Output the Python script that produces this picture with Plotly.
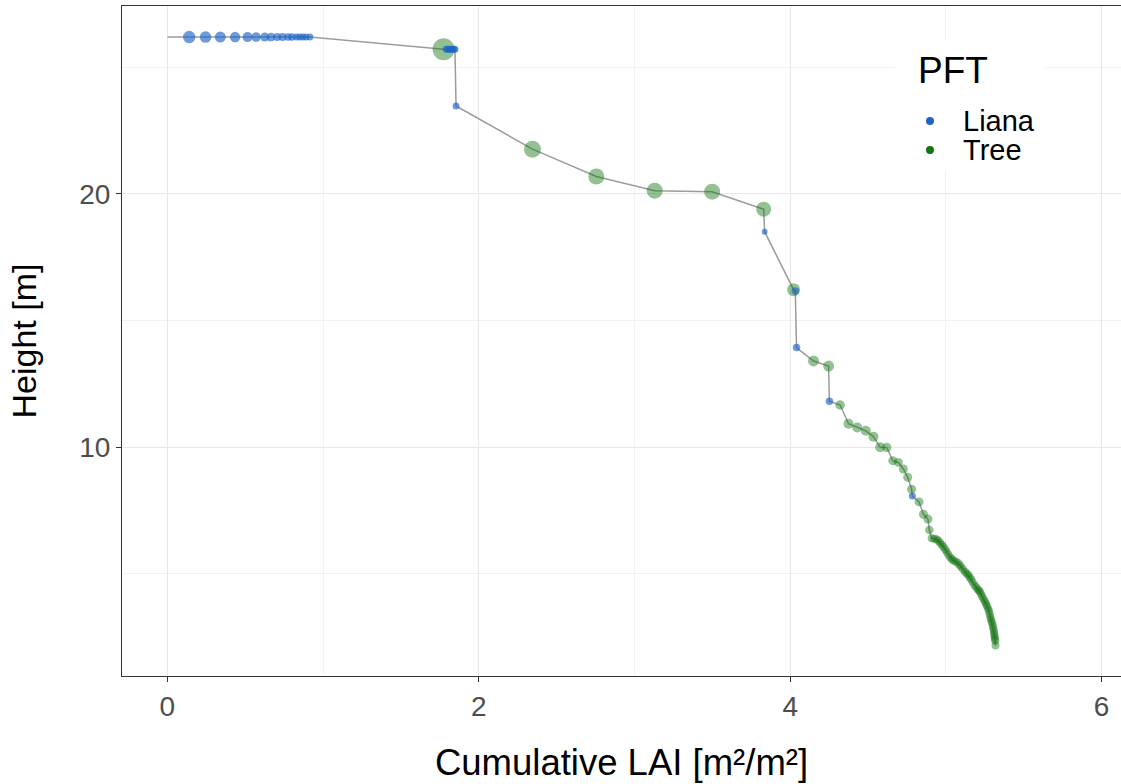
import plotly.graph_objects as go

# ---------------- data ----------------
# connecting path start (top of canopy, zero cumulative LAI)
path_start_lai = [0.0]
path_start_h = [26.2]

# Liana layers
liana_lai = [0.14, 0.245, 0.34, 0.435, 0.515, 0.57, 0.625, 0.665, 0.705, 0.74,
             0.775, 0.80, 0.83, 0.85, 0.87, 0.89, 0.915,
             1.79, 1.80, 1.81, 1.82, 1.83, 1.84, 1.847,
             1.854, 3.836, 4.033, 4.041, 4.252, 4.785]
liana_h = [26.2] * 17 + [25.72] * 7 + [23.48, 18.51, 16.17, 13.93, 11.81, 8.06]
liana_size = [12.5, 11.5, 11, 10.5, 10, 9.5, 9, 8.5, 8, 8, 7.5, 7.5, 7, 7, 7, 7, 7,
              7, 7, 7, 7, 7, 7, 7,
              7, 6, 7.5, 7.5, 7.5, 7]

# Tree layers
tree_lai = [1.774, 2.345, 2.755, 3.130, 3.499, 3.830, 4.022, 4.150, 4.247, 4.321,
            4.375, 4.431, 4.486, 4.535, 4.578, 4.620, 4.659, 4.695, 4.727, 4.755,
            4.780, 4.828, 4.856, 4.885, 4.894,
            4.909, 4.925, 4.941, 4.952, 4.963, 4.974, 4.984, 4.995, 5.005, 5.016,
            5.027, 5.038, 5.048, 5.062, 5.076, 5.087, 5.097, 5.110, 5.123, 5.134,
            5.144, 5.153, 5.162, 5.172, 5.183, 5.194, 5.204, 5.212, 5.219, 5.227,
            5.234, 5.243, 5.251, 5.258, 5.264, 5.271, 5.277, 5.281, 5.285, 5.290,
            5.294, 5.299, 5.303, 5.306, 5.309, 5.311, 5.313, 5.315, 5.317, 5.319]
tree_h = [25.72, 21.77, 20.69, 20.13, 20.09, 19.40, 16.22, 13.40, 13.20, 11.66,
          10.92, 10.77, 10.64, 10.41, 9.99, 9.98, 9.46, 9.39, 9.13, 8.80,
          8.33, 7.83, 7.34, 7.15, 6.72,
          6.39, 6.37, 6.35, 6.29, 6.22, 6.14, 6.06, 5.96, 5.86, 5.75,
          5.64, 5.57, 5.51, 5.47, 5.43, 5.35, 5.27, 5.17, 5.07, 5.00,
          4.94, 4.85, 4.77, 4.66, 4.55, 4.47, 4.38, 4.33, 4.28, 4.18,
          4.08, 3.98, 3.89, 3.80, 3.72, 3.62, 3.53, 3.41, 3.29, 3.19,
          3.09, 3.00, 2.90, 2.80, 2.70, 2.60, 2.50, 2.42, 2.34, 2.15]
tree_size = [22, 17, 16, 16, 16, 15, 13, 11, 11, 9.5,
             10, 10, 10, 10, 10, 9.5, 9, 9, 9, 9,
             9, 9, 9, 9, 8.5] + [8] * 50

x_ticks = [0, 2, 4, 6]
y_ticks = [10, 20]
legend_title = "PFT"
legend_labels = ["Liana", "Tree"]

# ---------------- styling ----------------
LIANA = "#1f64c8"
TREE = "#127512"
PATH = "#9c9c9c"
FONT = "Liberation Sans, Arial, sans-serif"

W, H = 1121, 784
ML, MR, MT, MB = 122, 0, 6, 108
PW, PH = W - ML - MR, H - MT - MB


def px_x(p):  # pixel -> paper x
    return (p - ML) / PW


def px_y(p):  # pixel -> paper y
    return (H - MB - p) / PH


# path through all layers in order of cumulative LAI
pts = sorted(zip(path_start_lai + liana_lai + tree_lai,
                 path_start_h + liana_h + tree_h), key=lambda p: (p[0], -p[1]))
path_x = [p[0] for p in pts]
path_y = [p[1] for p in pts]

fig = go.Figure()
fig.add_trace(go.Scatter(x=path_x, y=path_y, mode="lines",
                         line=dict(color=PATH, width=1.5),
                         showlegend=False, hoverinfo="skip"))
fig.add_trace(go.Scatter(x=tree_lai, y=tree_h, mode="markers", name="Tree",
                         marker=dict(color=TREE, size=tree_size, opacity=0.45,
                                     line=dict(width=0)),
                         showlegend=False))
fig.add_trace(go.Scatter(x=liana_lai, y=liana_h, mode="markers", name="Liana",
                         marker=dict(color=LIANA, size=liana_size, opacity=0.65,
                                     line=dict(width=0)),
                         showlegend=False))

axis_common = dict(
    showline=True, linecolor="#333333", linewidth=1, mirror=True,
    ticks="outside", ticklen=5, tickcolor="#333333", tickwidth=1,
    showgrid=True, gridcolor="#e8e8e8", gridwidth=1.2,
    tickfont=dict(family=FONT, size=28, color="#4d4d4d"),
    zeroline=False, automargin=False,
)

# legend drawn manually (white box, title, dots, labels)
shapes = [dict(type="rect", xref="paper", yref="paper",
               x0=px_x(895), x1=px_x(1045), y0=px_y(170), y1=px_y(40),
               fillcolor="white", line=dict(width=0), layer="above")]
annotations = [dict(text=legend_title, xref="paper", yref="paper",
                    x=px_x(916), y=px_y(70), xanchor="left", yanchor="middle",
                    showarrow=False, font=dict(family=FONT, size=37, color="black"))]
legend_colors = [LIANA, TREE]
for i, (lab, col) in enumerate(zip(legend_labels, legend_colors)):
    cy = 121 + 29 * i
    shapes.append(dict(type="circle", xref="paper", yref="paper",
                       x0=px_x(926), x1=px_x(934), y0=px_y(cy + 4), y1=px_y(cy - 4),
                       fillcolor=col, line=dict(width=0), layer="above"))
    annotations.append(dict(text=lab, xref="paper", yref="paper",
                            x=px_x(961), y=px_y(cy), xanchor="left", yanchor="middle",
                            showarrow=False,
                            font=dict(family=FONT, size=29, color="black")))

fig.update_layout(
    width=W, height=H, autosize=False,
    margin=dict(l=ML, r=MR, t=MT, b=MB, pad=0),
    paper_bgcolor="white", plot_bgcolor="white",
    font=dict(family=FONT, color="black"),
    showlegend=False,
    xaxis=dict(range=[-0.2916, 6.125], tickvals=x_ticks,
               minor=dict(tickvals=[1, 3, 5], showgrid=True, gridcolor="#f2f2f2",
                          gridwidth=0.8, ticks=""),
               title=dict(text="Cumulative LAI [m²/m²]", standoff=28,
                          font=dict(family=FONT, size=36.5, color="black")),
               **axis_common),
    yaxis=dict(range=[0.949, 27.43], tickvals=y_ticks,
               minor=dict(tickvals=[5, 15, 25], showgrid=True, gridcolor="#f2f2f2",
                          gridwidth=0.8, ticks=""),
               title=dict(text="Height [m]", standoff=32,
                          font=dict(family=FONT, size=34, color="black")),
               **axis_common),
    shapes=shapes,
    annotations=annotations,
)

fig.write_html("out.html",
               config={"displayModeBar": False},
               post_script="document.body.style.margin='0';"
                           "document.body.style.overflow='hidden';")
